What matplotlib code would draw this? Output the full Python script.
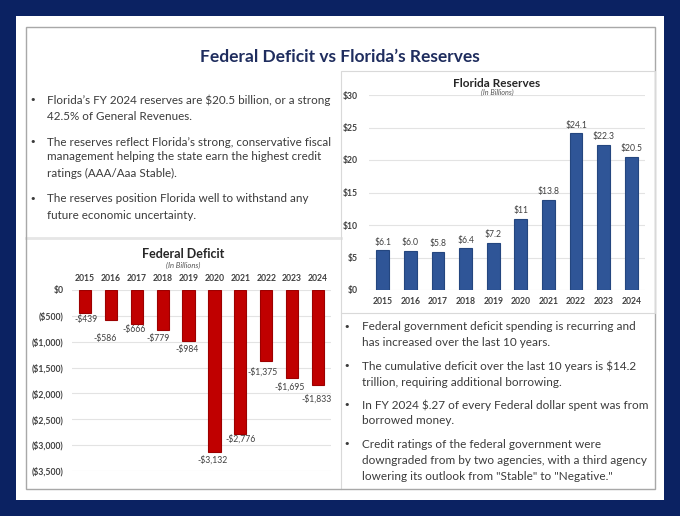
import matplotlib
matplotlib.use("Agg")
import matplotlib.pyplot as plt
from matplotlib.patches import Rectangle
from matplotlib.lines import Line2D
from matplotlib.ticker import FixedLocator

# ---------------- data ----------------
years = ["2015", "2016", "2017", "2018", "2019", "2020", "2021", "2022", "2023", "2024"]
deficit = [-439, -586, -666, -779, -984, -3132, -2776, -1375, -1695, -1833]
deficit_labels = ["-$439", "-$586", "-$666", "-$779", "-$984", "-$3,132", "-$2,776",
                  "-$1,375", "-$1,695", "-$1,833"]
deficit_ticks = [0, -500, -1000, -1500, -2000, -2500, -3000, -3500]
deficit_tick_labels = ["$0", "($500)", "($1,000)", "($1,500)", "($2,000)", "($2,500)",
                       "($3,000)", "($3,500)"]
reserves = [6.1, 6.0, 5.8, 6.4, 7.2, 11.0, 13.8, 24.1, 22.3, 20.5]
reserve_labels = ["$6.1", "$6.0", "$5.8", "$6.4", "$7.2", "$11", "$13.8", "$24.1", "$22.3", "$20.5"]
reserve_ticks = [0, 5, 10, 15, 20, 25, 30]
reserve_tick_labels = ["$0", "$5", "$10", "$15", "$20", "$25", "$30"]

# layout-only: per-label offsets (dx, dy in points) for deficit data labels
deficit_label_offsets = [(1, -5), (-4, -13), (-2, -4), (-3, -6), (-1, -6),
                         (-1, -6), (0, -4), (-3, -8), (-2, -7), (-1, -10)]

W, H = 680, 516
fig = plt.figure(figsize=(W / 100, H / 100), dpi=100)
fig.patch.set_facecolor("#0b2262")


def fx(x):
    return x / W


def fy(y):
    return 1 - y / H


def rect(x0, y0, x1, y1, **kw):
    fig.patches.append(Rectangle((fx(x0), fy(y1)), fx(x1) - fx(x0), fy(y0) - fy(y1),
                                 transform=fig.transFigure, **kw))


def hline(x0, x1, y, **kw):
    fig.lines.append(Line2D([fx(x0), fx(x1)], [fy(y), fy(y)], transform=fig.transFigure, **kw))


def vline(x, y0, y1, **kw):
    fig.lines.append(Line2D([fx(x), fx(x)], [fy(y0), fy(y1)], transform=fig.transFigure, **kw))


# white slide and inner border
rect(16, 16, 664, 500, facecolor="white", edgecolor="none", zorder=-3)
rect(26, 27, 655, 489, facecolor="none", edgecolor="#a8a8a8", lw=1.0, zorder=-2)
# right chart box
rect(341, 71, 655, 313, facecolor="none", edgecolor="#d9d9d9", lw=0.8, zorder=-2)
vline(341, 313, 489, color="#d9d9d9", lw=0.8, zorder=-2)
# left lower separator
hline(26, 341, 238, color="#e6e6e6", lw=2.0, zorder=-2)

TXT = "#3b3b3b"
NAVY = "#1f2d5e"
FONT_CHART = ["Lato", "DejaVu Sans"]

fig.text(fx(340), fy(57), "Federal Deficit vs Florida\u2019s Reserves", ha="center", va="center",
         fontsize=12.5, fontweight="bold", color=NAVY, family=FONT_CHART)

# left bullets
left_paras = [
    [(100, "Florida\u2019s FY 2024 reserves are \\$20.5 billion, or a strong"),
     (116, "42.5% of General Revenues.")],
    [(142, "The reserves reflect Florida\u2019s strong, conservative fiscal"),
     (157, "management helping the state earn the highest credit"),
     (173, "ratings (AAA/Aaa Stable).")],
    [(199, "The reserves position Florida well to withstand any"),
     (215, "future economic uncertainty.")],
]
for para in left_paras:
    fig.text(fx(33), fy(para[0][0]), "\u2022", ha="center", va="center", fontsize=8,
             color=TXT, family=["DejaVu Sans"])
    for y, s in para:
        fig.text(fx(47), fy(y), s, ha="left", va="center", fontsize=8.4, color=TXT,
                 family=FONT_CHART)

right_paras = [
    [(327, "Federal government deficit spending is recurring and"),
     (343, "has increased over the last 10 years.")],
    [(366, "The cumulative deficit over the last 10 years is \\$14.2"),
     (382, "trillion, requiring additional borrowing.")],
    [(405, "In FY 2024 \\$.27 of every Federal dollar spent was from"),
     (421, "borrowed money.")],
    [(444, "Credit ratings of the federal government were"),
     (460, "downgraded from by two agencies, with a third agency"),
     (476, "lowering its outlook from \"Stable\" to \"Negative.\"")],
]
for para in right_paras:
    fig.text(fx(347), fy(para[0][0]), "\u2022", ha="center", va="center", fontsize=8,
             color=TXT, family=["DejaVu Sans"])
    for y, s in para:
        fig.text(fx(362), fy(y), s, ha="left", va="center", fontsize=8.5, color=TXT,
                 family=FONT_CHART)

# ---------------- Federal Deficit chart ----------------
ax1 = fig.add_axes([fx(72), fy(471), fx(331) - fx(72), fy(290) - fy(471)])
ax1.set_facecolor("none")
xs = list(range(len(years)))
ax1.bar(xs, deficit, width=0.47, color="#c00000", edgecolor="#9c0000", lw=0.8, zorder=3)
ax1.set_xlim(-0.5, len(years) - 0.5)
ax1.set_ylim(deficit_ticks[-1], deficit_ticks[0])
ax1.yaxis.set_major_locator(FixedLocator(deficit_ticks))
ax1.set_yticklabels(deficit_tick_labels)
ax1.xaxis.tick_top()
ax1.set_xticks(xs)
ax1.set_xticklabels(years)
ax1.tick_params(axis="x", length=0, pad=5, labelsize=6.2, labelcolor="#404040")
ax1.tick_params(axis="y", length=0, pad=6, labelsize=6.2, labelcolor="#404040")
for lab in ax1.get_xticklabels():
    lab.set_fontweight("bold")
    lab.set_family(FONT_CHART)
for lab in ax1.get_yticklabels():
    lab.set_fontweight("bold")
    lab.set_family(FONT_CHART)
ax1.grid(axis="y", color="#e3e3e3", lw=0.8, zorder=0)
for sp in ax1.spines.values():
    sp.set_visible(False)
for x, v, s, (dx, dy) in zip(xs, deficit, deficit_labels, deficit_label_offsets):
    ax1.annotate(s, (x, v), xytext=(dx, dy), textcoords="offset points", ha="center",
                 va="center", fontsize=6.2, color="#404040", family=FONT_CHART,
                 annotation_clip=False)
fig.text(fx(183), fy(254), "Federal Deficit", ha="center", va="center", fontsize=9,
         fontweight="bold", color="#262626", family=FONT_CHART)
fig.text(fx(183), fy(265), "(In Billions)", ha="center", va="center", fontsize=5.5,
         style="italic", color="#555555", family=FONT_CHART)

# ---------------- Florida Reserves chart ----------------
ax2 = fig.add_axes([fx(369), fy(290), fx(645) - fx(369), fy(95) - fy(290)])
ax2.set_facecolor("none")
ax2.bar(xs, reserves, width=0.47, color="#2f5597", edgecolor="#24467f", lw=0.8, zorder=3)
ax2.set_xlim(-0.5, len(years) - 0.5)
ax2.set_ylim(reserve_ticks[0], reserve_ticks[-1])
ax2.yaxis.set_major_locator(FixedLocator(reserve_ticks))
ax2.set_yticklabels(reserve_tick_labels)
ax2.set_xticks(xs)
ax2.set_xticklabels(years)
ax2.tick_params(axis="x", length=0, pad=5, labelsize=6.2, labelcolor="#404040")
ax2.tick_params(axis="y", length=0, pad=8, labelsize=6.2, labelcolor="#404040")
for lab in ax2.get_xticklabels():
    lab.set_fontweight("bold")
    lab.set_family(FONT_CHART)
for lab in ax2.get_yticklabels():
    lab.set_fontweight("bold")
    lab.set_family(FONT_CHART)
ax2.grid(axis="y", color="#e3e3e3", lw=0.8, zorder=0)
for sp in ax2.spines.values():
    sp.set_visible(False)
for x, v, s in zip(xs, reserves, reserve_labels):
    ax2.annotate(s, (x, v), xytext=(0, 6), textcoords="offset points", ha="center",
                 va="center", fontsize=6.2, color="#404040", family=FONT_CHART,
                 annotation_clip=False)
fig.text(fx(497), fy(83), "Florida Reserves", ha="center", va="center", fontsize=8.5,
         fontweight="bold", color="#262626", family=FONT_CHART)
fig.text(fx(497), fy(92), "(In Billions)", ha="center", va="center", fontsize=5.2,
         style="italic", color="#555555", family=FONT_CHART)

fig.savefig("out.png", dpi=100, facecolor=fig.get_facecolor())
